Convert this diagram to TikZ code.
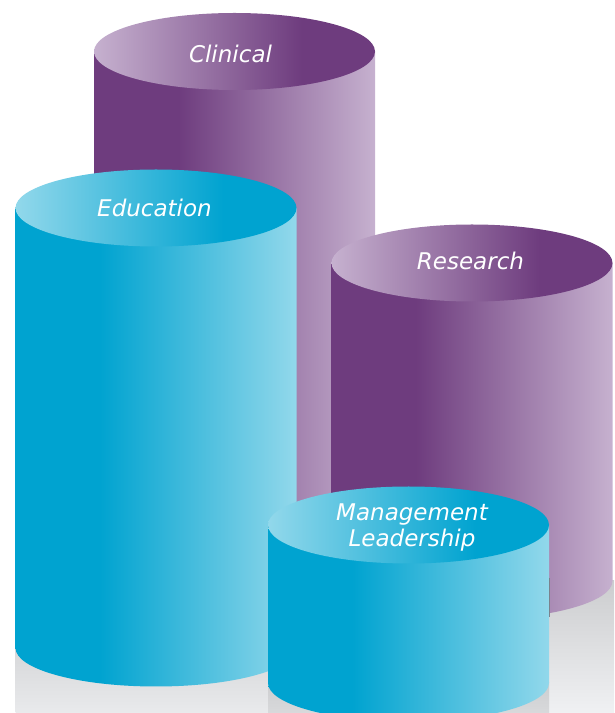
\documentclass[tikz,border=0pt]{standalone}
\usepackage{fontspec}
\setmainfont{DejaVu Sans}

\definecolor{cyandark}{RGB}{0,163,208}
\definecolor{cyanlight}{RGB}{146,216,235}
\definecolor{plumdark}{RGB}{110,60,126}
\definecolor{plumlight}{RGB}{198,177,207}
\definecolor{edgeshadow}{RGB}{120,118,128}

\pgfdeclarehorizontalshading{cyanbody}{100bp}{color(0bp)=(cyandark); color(40bp)=(cyandark); color(75bp)=(cyanlight); color(100bp)=(cyanlight)}
\pgfdeclarehorizontalshading{cyantop}{100bp}{color(0bp)=(cyanlight); color(25bp)=(cyanlight); color(62bp)=(cyandark); color(100bp)=(cyandark)}
\pgfdeclarehorizontalshading{plumbody}{100bp}{color(0bp)=(plumdark); color(40bp)=(plumdark); color(75bp)=(plumlight); color(100bp)=(plumlight)}
\pgfdeclarehorizontalshading{plumtop}{100bp}{color(0bp)=(plumlight); color(25bp)=(plumlight); color(62bp)=(plumdark); color(100bp)=(plumdark)}

\begin{document}
\begin{tikzpicture}[
    x=1pt, y=1pt,
    rim/.style={x radius=140.5pt, y radius=38.5pt},
    pillar text/.style={text=white, font=\fontsize{23}{26}\selectfont\itshape, inner sep=0pt}
]
\useasboundingbox (0,0) rectangle (614,713);
\clip (0,0) rectangle (614,713);

% Clinical (back)
\shade[shading=plumbody] (94,661.5) -- (94,153) arc[start angle=180, end angle=360, rim] -- (375,661.5) -- cycle;
\shade[shading=plumtop] (234.5,661.5) ellipse [rim];
\node[pillar text, anchor=base] (clinical) at (230.5,650) {Clinical};

% Research
\shade[top color={rgb,255:red,204;green,205;blue,207}, bottom color={rgb,255:red,240;green,241;blue,243}] (331.5,0) rectangle (614,132);
\shade[shading=plumbody] (331.5,450) -- (331.5,132) arc[start angle=180, end angle=360, rim] -- (612.5,450) -- cycle;
\shade[shading=plumtop] (472,450) ellipse [rim];
\node[pillar text, anchor=base] (research) at (470.5,443) {Research};

% Education
\shade[top color={rgb,255:red,214;green,215;blue,217}, bottom color={rgb,255:red,233;green,234;blue,236}] (15.5,0) rectangle (296.5,65);
\shade[shading=cyanbody] (15.5,505) -- (15.5,65) arc[start angle=180, end angle=360, rim] -- (296.5,505) -- cycle;
\shade[shading=cyantop] (156,505) ellipse [rim];
\node[pillar text, anchor=base] (education) at (154.5,496) {Education};

% Management / Leadership (front)
\shade[top color={rgb,255:red,205;green,206;blue,208}, bottom color={rgb,255:red,216;green,217;blue,219}] (268,0) rectangle (549,30);
\draw[edgeshadow, line width=0.8pt] (549.6,135) -- (549.6,96);
\shade[shading=cyanbody] (268,188) -- (268,30) arc[start angle=180, end angle=360, rim] -- (549,188) -- cycle;
\shade[shading=cyantop] (408.5,188) ellipse [rim];
\node[pillar text, align=center] (management) at (412,185.7) {Management\\Leadership};

\end{tikzpicture}
\end{document}
